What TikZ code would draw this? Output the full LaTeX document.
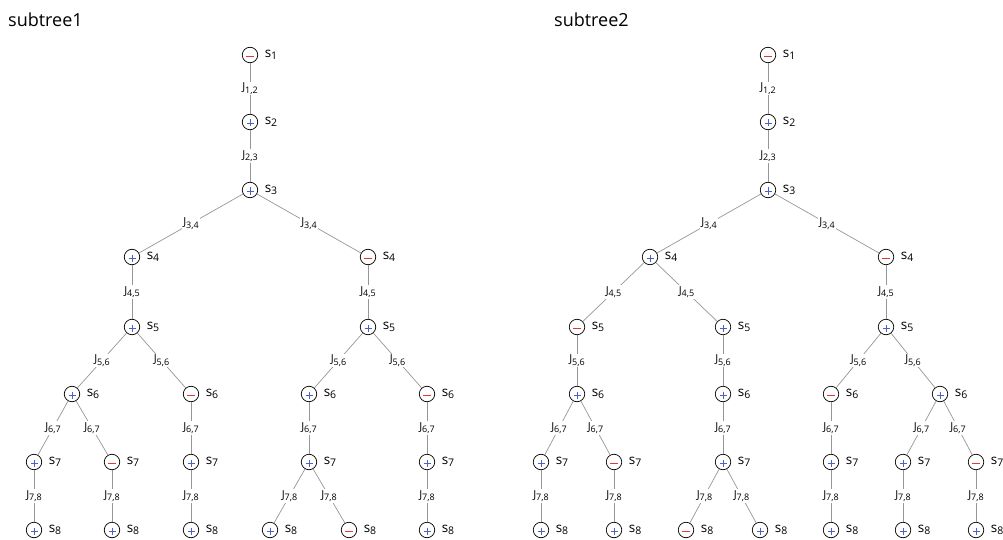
\documentclass[tikz,border=0pt]{standalone}
\usepackage{fontspec}
\setmainfont{Open Sans}
\definecolor{edgec}{RGB}{150,150,150}
\definecolor{upc}{RGB}{70,100,200}
\definecolor{dnc}{RGB}{225,55,55}
\newcommand{\slab}[1]{s\raisebox{-2.5pt}{\fontsize{10.5}{10.5}\selectfont #1}}
\newcommand{\jlab}[1]{J\raisebox{-2.5pt}{\fontsize{9}{9}\selectfont #1}}
\tikzset{
  spin/.style={circle,draw=black,line width=0.7pt,minimum size=15.5pt,inner sep=0pt,fill=white},
  slabel/.style={font=\fontsize{13.5}{13.5}\selectfont,inner sep=0.5pt,label distance=6pt},
  upsign/.style={draw=upc,line width=0.8pt},
  dnsign/.style={draw=dnc,line width=0.9pt},
  edge/.style={draw=edgec,line width=0.7pt},
  jl/.style={fill=white,inner sep=1pt,font=\fontsize{11}{11}\selectfont},
  title/.style={anchor=west,inner sep=0pt,font=\fontsize{18}{18}\selectfont}
}
\newcommand{\signup}[1]{\path[upsign] ([xshift=-3.5pt,yshift=-1pt]#1.center) -- ([xshift=3.5pt,yshift=-1pt]#1.center)
      ([yshift=2.5pt]#1.center) -- ([yshift=-4.5pt]#1.center);}
\newcommand{\signdn}[1]{\path[dnsign] ([xshift=-4pt,yshift=-1.5pt]#1.center) -- ([xshift=4pt,yshift=-1.5pt]#1.center);}
\newcommand{\sn}[5]{\node[spin,label={[slabel]right:\slab{#5}}] (#2) at (#3,#4) {};\csname sign#1\endcsname{#2}}
\newcommand{\jn}[3]{\draw[edge] (#1) -- (#2) node[midway,jl] {\jlab{#3}};}
\begin{document}
\begin{tikzpicture}[x=1pt,y=-1pt]
\useasboundingbox (0,0) rectangle (1003,540);
\node[title] (t1) at (8,20) {subtree1};
\node[title] (t2) at (554,20) {subtree2};
% ---------- subtree 1 ----------
\sn{dn}{a1}{250}{55}{1}
\sn{up}{a2}{250}{122}{2}
\sn{up}{a3}{250}{190}{3}
\sn{up}{a4L}{132}{257}{4}
\sn{dn}{a4R}{368}{257}{4}
\sn{up}{a5L}{132}{327}{5}
\sn{up}{a5R}{368}{327}{5}
\sn{up}{a6LL}{72}{394}{6}
\sn{dn}{a6LR}{191}{394}{6}
\sn{up}{a6RL}{309}{394}{6}
\sn{dn}{a6RR}{427}{394}{6}
\sn{up}{a7a}{34}{462}{7}
\sn{dn}{a7b}{112}{462}{7}
\sn{up}{a7c}{191}{462}{7}
\sn{up}{a7d}{309}{462}{7}
\sn{up}{a7e}{427}{462}{7}
\sn{up}{a8a}{34}{530}{8}
\sn{up}{a8b}{112}{530}{8}
\sn{up}{a8c}{191}{530}{8}
\sn{up}{a8d}{270}{530}{8}
\sn{dn}{a8e}{349}{530}{8}
\sn{up}{a8f}{427}{530}{8}
\jn{a1}{a2}{1,2}
\jn{a2}{a3}{2,3}
\jn{a3}{a4L}{3,4}
\jn{a3}{a4R}{3,4}
\jn{a4L}{a5L}{4,5}
\jn{a4R}{a5R}{4,5}
\jn{a5L}{a6LL}{5,6}
\jn{a5L}{a6LR}{5,6}
\jn{a5R}{a6RL}{5,6}
\jn{a5R}{a6RR}{5,6}
\jn{a6LL}{a7a}{6,7}
\jn{a6LL}{a7b}{6,7}
\jn{a6LR}{a7c}{6,7}
\jn{a6RL}{a7d}{6,7}
\jn{a6RR}{a7e}{6,7}
\jn{a7a}{a8a}{7,8}
\jn{a7b}{a8b}{7,8}
\jn{a7c}{a8c}{7,8}
\jn{a7d}{a8d}{7,8}
\jn{a7d}{a8e}{7,8}
\jn{a7e}{a8f}{7,8}
% ---------- subtree 2 ----------
\sn{dn}{b1}{768}{55}{1}
\sn{up}{b2}{768}{122}{2}
\sn{up}{b3}{768}{190}{3}
\sn{up}{b4L}{650}{257}{4}
\sn{dn}{b4R}{886}{257}{4}
\sn{dn}{b5a}{577}{327}{5}
\sn{up}{b5b}{723}{327}{5}
\sn{up}{b5c}{886}{327}{5}
\sn{up}{b6a}{577}{394}{6}
\sn{up}{b6b}{723}{394}{6}
\sn{dn}{b6c}{831}{394}{6}
\sn{up}{b6d}{940}{394}{6}
\sn{up}{b7a}{541}{462}{7}
\sn{dn}{b7b}{614}{462}{7}
\sn{up}{b7c}{723}{462}{7}
\sn{up}{b7d}{831}{462}{7}
\sn{up}{b7e}{903}{462}{7}
\sn{dn}{b7f}{976}{462}{7}
\sn{up}{b8a}{541}{530}{8}
\sn{up}{b8b}{614}{530}{8}
\sn{dn}{b8c}{686}{530}{8}
\sn{up}{b8d}{760}{530}{8}
\sn{up}{b8e}{831}{530}{8}
\sn{up}{b8f}{903}{530}{8}
\sn{up}{b8g}{976}{530}{8}
\jn{b1}{b2}{1,2}
\jn{b2}{b3}{2,3}
\jn{b3}{b4L}{3,4}
\jn{b3}{b4R}{3,4}
\jn{b4L}{b5a}{4,5}
\jn{b4L}{b5b}{4,5}
\jn{b4R}{b5c}{4,5}
\jn{b5a}{b6a}{5,6}
\jn{b5b}{b6b}{5,6}
\jn{b5c}{b6c}{5,6}
\jn{b5c}{b6d}{5,6}
\jn{b6a}{b7a}{6,7}
\jn{b6a}{b7b}{6,7}
\jn{b6b}{b7c}{6,7}
\jn{b6c}{b7d}{6,7}
\jn{b6d}{b7e}{6,7}
\jn{b6d}{b7f}{6,7}
\jn{b7a}{b8a}{7,8}
\jn{b7b}{b8b}{7,8}
\jn{b7c}{b8c}{7,8}
\jn{b7c}{b8d}{7,8}
\jn{b7d}{b8e}{7,8}
\jn{b7e}{b8f}{7,8}
\jn{b7f}{b8g}{7,8}
\end{tikzpicture}
\end{document}
